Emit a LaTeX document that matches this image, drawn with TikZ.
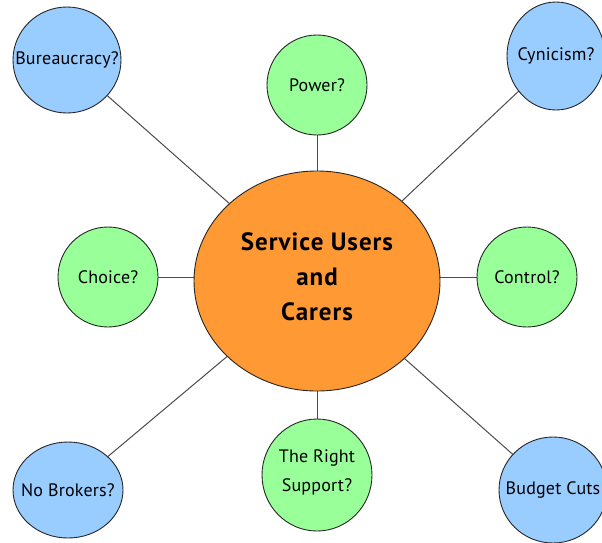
\documentclass[tikz,border=0pt]{standalone}
\usepackage{fontspec}
\setmainfont{PT Sans}
\usetikzlibrary{shapes.geometric}
\definecolor{hubfill}{RGB}{255,153,51}
\definecolor{bluefill}{RGB}{153,204,255}
\definecolor{greenfill}{RGB}{153,255,153}
\begin{document}
\begin{tikzpicture}[x=1pt,y=-1pt,
  bubble/.style={ellipse,draw=black!85,line width=0.9pt,inner sep=0pt},
  outer/.style={bubble,fill=bluefill,minimum width=108pt,minimum height=106pt},
  inner/.style={bubble,fill=greenfill,minimum width=100pt,minimum height=100pt},
  tag/.style={align=center,inner sep=0pt,
    font=\fontsize{18}{29}\selectfont\addfontfeature{LetterSpace=1}},
  hub/.style={ellipse,draw=black!85,line width=0.9pt,fill=hubfill,inner sep=0pt,
    minimum width=246pt,minimum height=220pt},
  hubtext/.style={align=center,inner sep=0pt,
    font=\fontsize{25}{35}\selectfont\bfseries\addfontfeature{LetterSpace=4}},
  link/.style={draw=black!70,line width=1pt}]
\useasboundingbox (0,0) rectangle (602,542);
\fill[white] (0,0) rectangle (602,542);

% links are drawn first so the bubbles cover their ends
\coordinate (hc) at (317,281);
\coordinate (bc) at (67,60);
\coordinate (cc) at (556,56);
\coordinate (nc) at (68,490);
\coordinate (uc) at (553,490);
\coordinate (pc) at (317,85);
\coordinate (chc) at (108,277);
\coordinate (coc) at (527,277);
\coordinate (rc) at (317,475);
\draw[link] (hc) -- (bc);
\draw[link] (hc) -- (cc);
\draw[link] (hc) -- (nc);
\draw[link] (hc) -- (uc);
\draw[link] (hc) -- (pc);
\draw[link] (hc) -- (rc);
\draw[link] (hc |- chc) -- (chc);
\draw[link] (hc |- coc) -- (coc);

\node[hub] (hub) at (hc) {};
\node[hubtext] (hubtxt) at (317,277) {Service Users\\and\\Carers};

% outer ring of questions
\node[outer] (bur) at (bc) {};
\node[outer,minimum width=98pt,minimum height=108pt] (cyn) at (cc) {};
\node[outer,minimum width=110pt,minimum height=96pt] (nob) at (nc) {};
\node[outer] (bud) at (uc) {};
\node[tag] (burtxt) at (bc) {Bureaucracy?};
\node[tag] (cyntxt) at (cc) {Cynicism?};
\node[tag] (nobtxt) at (nc) {No Brokers?};
\node[tag] (budtxt) at (uc) {Budget Cuts};

% inner ring of questions
\node[inner] (pow) at (pc) {};
\node[inner] (cho) at (chc) {};
\node[inner] (con) at (coc) {};
\node[inner,minimum width=110pt,minimum height=112pt] (rig) at (rc) {};
\node[tag] (powtxt) at (pc) {Power?};
\node[tag] (chotxt) at (chc) {Choice?};
\node[tag] (context) at (coc) {Control?};
\node[tag] (rigtxt) at (317,472) {The Right\\Support?};
\end{tikzpicture}
\end{document}
